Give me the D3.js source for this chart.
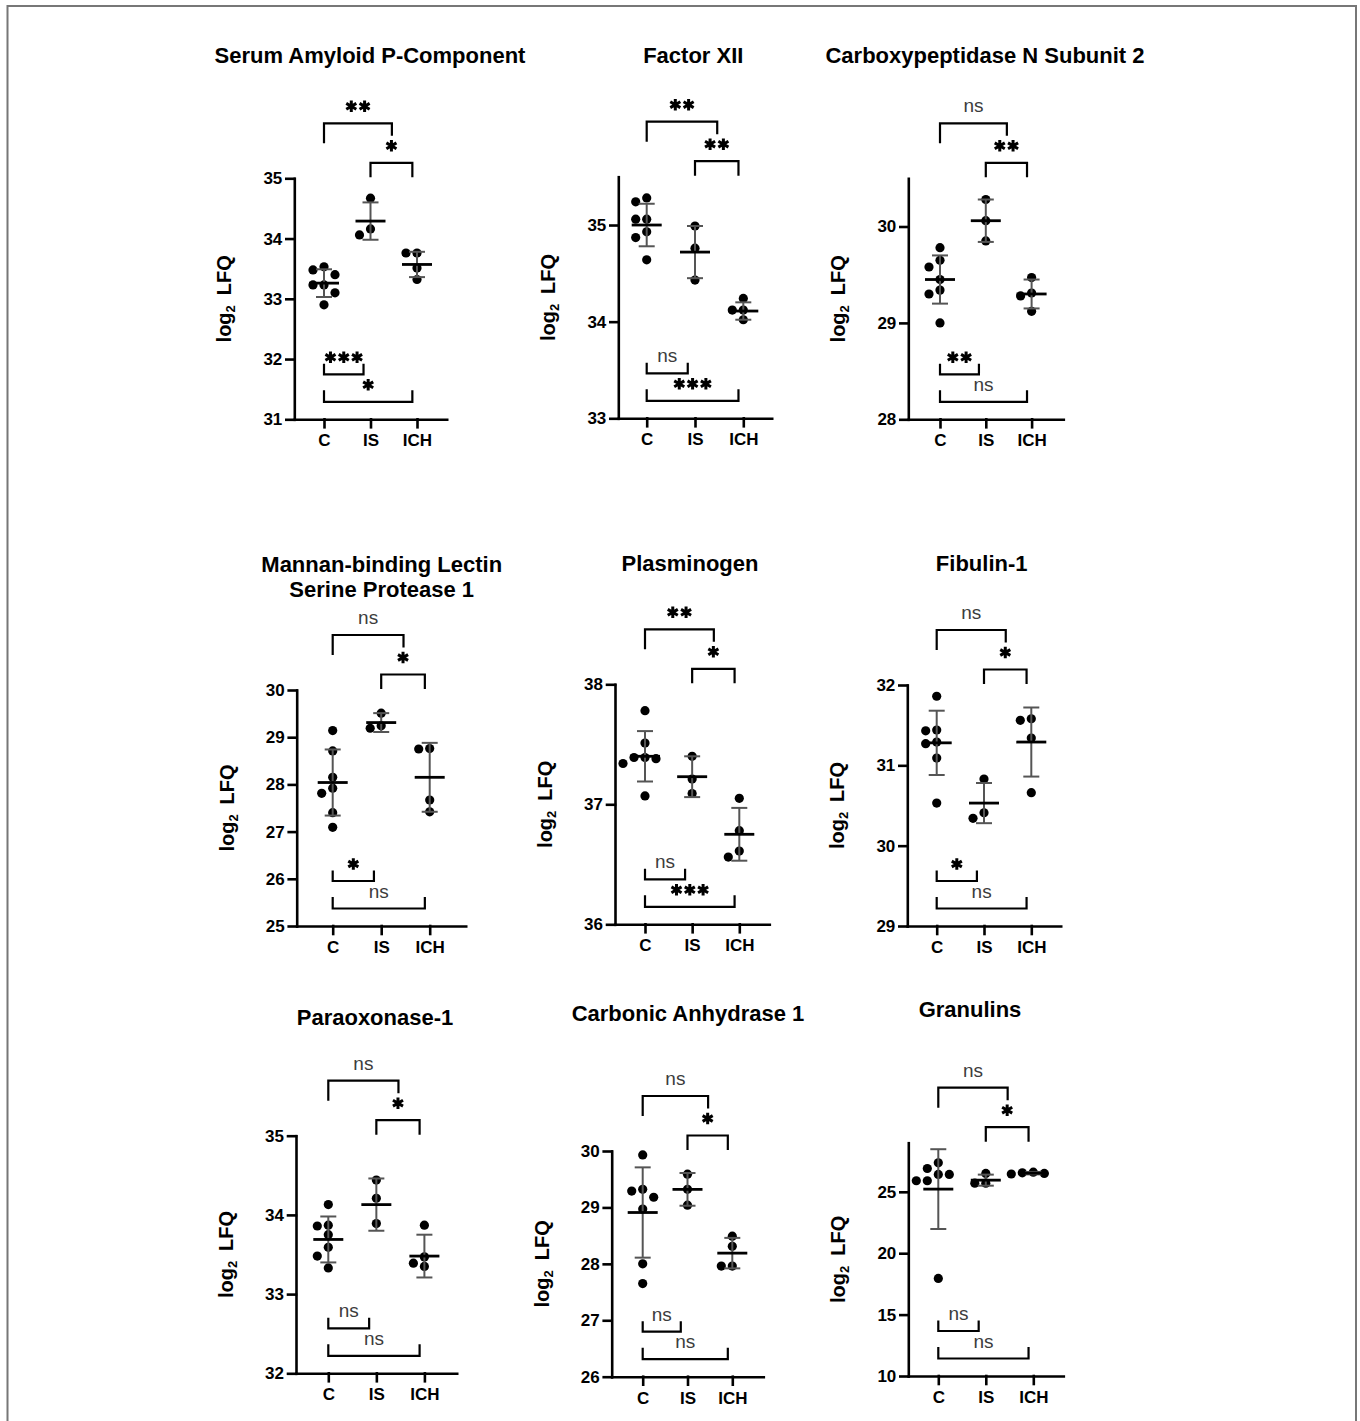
<!DOCTYPE html>
<html>
<head>
<meta charset="utf-8">
<script src="https://cdn.jsdelivr.net/npm/d3@7"></script>
<style>
  body { margin: 0; background: #fff; }
  svg text { font-family: "Liberation Sans", Arial, sans-serif; }
</style>
</head>
<body>
<div id="chart"></div>
<script>
// groups on every x axis
const groups = ["C", "IS", "ICH"];

const titles = [
    ["Serum Amyloid P-Component"], ["Factor XII"], ["Carboxypeptidase N Subunit 2"],
    ["Mannan-binding Lectin", "Serine Protease 1"], ["Plasminogen"], ["Fibulin-1"],
    ["Paraoxonase-1"], ["Carbonic Anhydrase 1"], ["Granulins"]
];

const yDomains = [[31, 35], [33, 35.5], [28, 30.5], [25, 30], [36, 38], [29, 32], [32, 35], [26, 30], [10, 29]];
const yTicks = [
    [31, 32, 33, 34, 35], [33, 34, 35], [28, 29, 30],
    [25, 26, 27, 28, 29, 30], [36, 37, 38], [29, 30, 31, 32],
    [32, 33, 34, 35], [26, 27, 28, 29, 30], [10, 15, 20, 25]
];

// log2 LFQ per sample, [C, IS, ICH]
const sapValues   = [[33.53, 33.48, 33.40, 33.23, 33.23, 33.10, 32.90], [34.67, 34.16, 34.06], [33.76, 33.76, 33.51, 33.32]];
const f12Values   = [[35.28, 35.24, 35.06, 35.06, 34.93, 34.87, 34.64], [34.99, 34.76, 34.43], [34.24, 34.12, 34.12, 34.02]];
const cpn2Values  = [[29.78, 29.65, 29.58, 29.45, 29.34, 29.30, 29.00], [30.28, 30.06, 29.85], [29.47, 29.31, 29.28, 29.12]];
const masp1Values = [[29.14, 28.71, 28.15, 27.92, 27.81, 27.40, 27.09], [29.51, 29.24, 29.19], [28.76, 28.75, 27.67, 27.42]];
const plgValues   = [[37.78, 37.51, 37.39, 37.39, 37.38, 37.34, 37.07], [37.40, 37.21, 37.09], [37.05, 36.78, 36.61, 36.56]];
const fbln1Values = [[31.86, 31.44, 31.43, 31.29, 31.27, 31.09, 30.53], [30.83, 30.41, 30.34], [31.58, 31.56, 31.34, 30.66]];
const pon1Values  = [[34.13, 33.87, 33.86, 33.75, 33.59, 33.48, 33.33], [34.44, 34.21, 33.89], [33.87, 33.47, 33.39, 33.35]];
const ca1Values   = [[29.93, 29.32, 29.29, 29.18, 28.97, 28.00, 27.65], [29.59, 29.32, 29.04], [28.49, 28.31, 27.96, 27.96]];
const grnValues   = [[27.36, 26.90, 26.42, 26.42, 25.90, 25.90, 17.95], [26.50, 25.70, 25.70], [26.60, 26.55, 26.50, 26.45]];

const panelValues = [sapValues, f12Values, cpn2Values, masp1Values, plgValues, fbln1Values, pon1Values, ca1Values, grnValues];

// mean and SD as shown by the bars
const means = [
    [33.26, 34.29, 33.57], [35.00, 34.72, 34.11], [29.45, 30.06, 29.30],
    [28.04, 29.31, 28.15], [37.40, 37.23, 36.75], [31.28, 30.53, 31.29],
    [33.69, 34.13, 33.48], [28.91, 29.32, 28.19], [25.22, 25.95, 26.52]
];
const sds = [
    [0.23, 0.31, 0.21], [0.22, 0.27, 0.09], [0.25, 0.22, 0.15],
    [0.70, 0.20, 0.73], [0.21, 0.17, 0.22], [0.40, 0.25, 0.43],
    [0.29, 0.33, 0.27], [0.80, 0.29, 0.27], [3.25, 0.45, 0.10]
];

// significance: top long, top short, bottom short, bottom long
const sigLabels = [
    ["**", "*", "***", "*"], ["**", "**", "ns", "***"], ["ns", "**", "**", "ns"],
    ["ns", "*", "*", "ns"], ["**", "*", "ns", "***"], ["ns", "*", "*", "ns"],
    ["ns", "*", "ns", "ns"], ["ns", "*", "ns", "ns"], ["ns", "*", "ns", "ns"]
];

// panel placement on the page
const layout = [
    { x0: 294.3, xEnd: 446.7, cx: 324,   top: 178.3,  bot: 419.3,  tx: 370,   ty: 63 },
    { x0: 618.3, xEnd: 771.7, cx: 646.7, top: 176.7,  bot: 418.3,  tx: 693.3, ty: 63 },
    { x0: 908.3, xEnd: 1063.3, cx: 940,  top: 178.3,  bot: 419.3,  tx: 985,   ty: 63 },
    { x0: 296.7, xEnd: 465.7, cx: 332.7, top: 690,    bot: 926,    tx: 381.7, ty: 572 },
    { x0: 615,   xEnd: 769.3, cx: 645,   top: 684.3,  bot: 924.3,  tx: 690,   ty: 571 },
    { x0: 907.3, xEnd: 1060.7, cx: 936.7, top: 685,   bot: 926,    tx: 981.7, ty: 571 },
    { x0: 296,   xEnd: 456.7, cx: 328.3, top: 1135.7, bot: 1373.3, tx: 375,   ty: 1025 },
    { x0: 611.7, xEnd: 763.3, cx: 642.7, top: 1151,   bot: 1376.7, tx: 688,   ty: 1021 },
    { x0: 908.3, xEnd: 1063.3, cx: 938.3, top: 1142.7, bot: 1376, tx: 970,   ty: 1017 }
];

// bracket geometry: ends in category units, bar offset from plot edge, leg lengths
const brackets = [
    { a: 0, b: 1.46, edge: "top", off: -55,  legA: 20,  legB: 12.5 },
    { a: 1, b: 1.9,  edge: "top", off: -15.5, legA: 14.5, legB: 14.5 },
    { a: 0, b: 0.85, edge: "bot", off: -45,  legA: -10.5, legB: -10.5 },
    { a: 0, b: 1.9,  edge: "bot", off: -17.5, legA: -11.5, legB: -11.5 }
];

const W = 1360, H = 1421;
const DOT_R = 4.6;

const svg = d3.select("#chart").append("svg")
    .attr("width", W).attr("height", H)
    .style("background", "#fff");

// open frame round the figure
svg.append("path")
    .attr("d", d3.line()([[7.5, H], [7.5, 6], [1356, 6], [1356, H]]))
    .attr("fill", "none")
    .attr("stroke", "#777")
    .attr("stroke-width", 2);

// simple swarm so dots of one group do not overlap
function swarm(vals, cx, y) {
    const pts = vals.map(v => ({ v, py: y(v) })).sort((p, q) => p.py - q.py);
    const placed = [];
    const step = 11;
    pts.forEach(p => {
        for (let k = 0; k < 30; k++) {
            const off = k === 0 ? 0 : (k % 2 ? -1 : 1) * Math.ceil(k / 2) * step;
            const ok = placed.every(q => Math.hypot(q.px - (cx + off), q.py - p.py) >= 2 * DOT_R + 0.3);
            if (ok) { p.px = cx + off; break; }
        }
        placed.push(p);
    });
    return placed;
}

function drawPanel(i) {
    const L = layout[i];
    const g = svg.append("g").attr("class", "panel");

    const pad = L.cx - L.x0;
    const step = (L.xEnd - L.x0 - 2 * pad) / 2;
    const x = d3.scalePoint().domain(groups).range([L.x0, L.xEnd]).padding(pad / step);
    const y = d3.scaleLinear().domain(yDomains[i]).range([L.bot, L.top]);

    // title
    const t = g.append("text")
        .attr("x", L.tx).attr("y", L.ty)
        .attr("text-anchor", "middle")
        .attr("font-size", 22).attr("font-weight", "bold");
    titles[i].forEach((line, j) => {
        t.append("tspan").attr("x", L.tx).attr("dy", j ? 25 : 0).text(line);
    });

    // axes
    const yAxis = g.append("g")
        .attr("transform", `translate(${L.x0},0)`)
        .call(d3.axisLeft(y).tickValues(yTicks[i]).tickFormat(d3.format("d")).tickSize(8).tickSizeOuter(0).tickPadding(4));
    const xAxis = g.append("g")
        .attr("transform", `translate(0,${L.bot})`)
        .call(d3.axisBottom(x).tickSize(8).tickSizeOuter(0).tickPadding(7));
    [yAxis, xAxis].forEach(ax => {
        ax.selectAll("path, line").attr("stroke", "#000").attr("stroke-width", 2.6).attr("stroke-linecap", "square");
        ax.selectAll("text").attr("fill", "#000").attr("font-size", 17).attr("font-weight", "bold")
            .style("font-family", "'Liberation Sans', Arial, sans-serif");
    });

    // y label with subscript
    const yl = g.append("text")
        .attr("transform", `translate(${L.x0 - 63},${(L.top + L.bot) / 2}) rotate(-90)`)
        .attr("text-anchor", "middle")
        .attr("font-size", 20).attr("font-weight", "bold");
    yl.append("tspan").text("log");
    yl.append("tspan").attr("font-size", 13).attr("dy", 4).text("2");
    yl.append("tspan").attr("dy", -4).text("\u2002LFQ");

    // dots
    groups.forEach((grp, k) => {
        const pts = swarm(panelValues[i][k], x(grp), y);
        g.selectAll(null).data(pts).enter().append("circle")
            .attr("cx", d => d.px).attr("cy", d => d.py)
            .attr("r", DOT_R).attr("fill", "#000");
    });

    // mean and SD
    const stats = groups.map((grp, k) => ({ grp, m: means[i][k], s: sds[i][k] }));
    const eb = g.selectAll(".eb").data(stats).enter().append("g").attr("class", "eb");
    eb.append("line")
        .attr("x1", d => x(d.grp)).attr("x2", d => x(d.grp))
        .attr("y1", d => y(d.m - d.s)).attr("y2", d => y(d.m + d.s))
        .attr("stroke", "#555").attr("stroke-width", 2);
    [-1, 1].forEach(sgn => {
        eb.append("line")
            .attr("x1", d => x(d.grp) - 8).attr("x2", d => x(d.grp) + 8)
            .attr("y1", d => y(d.m + sgn * d.s)).attr("y2", d => y(d.m + sgn * d.s))
            .attr("stroke", "#555").attr("stroke-width", 2);
    });
    eb.append("line")
        .attr("x1", d => x(d.grp) - 15).attr("x2", d => x(d.grp) + 15)
        .attr("y1", d => y(d.m)).attr("y2", d => y(d.m))
        .attr("stroke", "#000").attr("stroke-width", 2.8);

    // significance brackets
    const c0 = x(groups[0]);
    const st = x.step();
    brackets.forEach((b, k) => {
        const by = (b.edge === "top" ? L.top : L.bot) + b.off;
        const xa = c0 + b.a * st, xb = c0 + b.b * st;
        g.append("path")
            .attr("d", d3.line()([[xa, by + b.legA], [xa, by], [xb, by], [xb, by + b.legB]]))
            .attr("fill", "none").attr("stroke", "#000").attr("stroke-width", 2.2);

        const lab = sigLabels[i][k];
        const mid = (xa + xb) / 2;
        if (lab === "ns") {
            g.append("text")
                .attr("x", mid).attr("y", by - 11)
                .attr("text-anchor", "middle")
                .attr("font-size", 19).attr("fill", "#3c3c3c")
                .text("ns");
        } else {
            const n = lab.length;
            d3.range(n).forEach(j => {
                g.append("path")
                    .attr("d", d3.symbol().type(d3.symbolAsterisk).size(95)())
                    .attr("transform", `translate(${mid + (j - (n - 1) / 2) * 13.3},${by - 17})`)
                    .attr("fill", "none").attr("stroke", "#000").attr("stroke-width", 3);
            });
        }
    });
}

d3.range(titles.length).forEach(drawPanel);
</script>
</body>
</html>
